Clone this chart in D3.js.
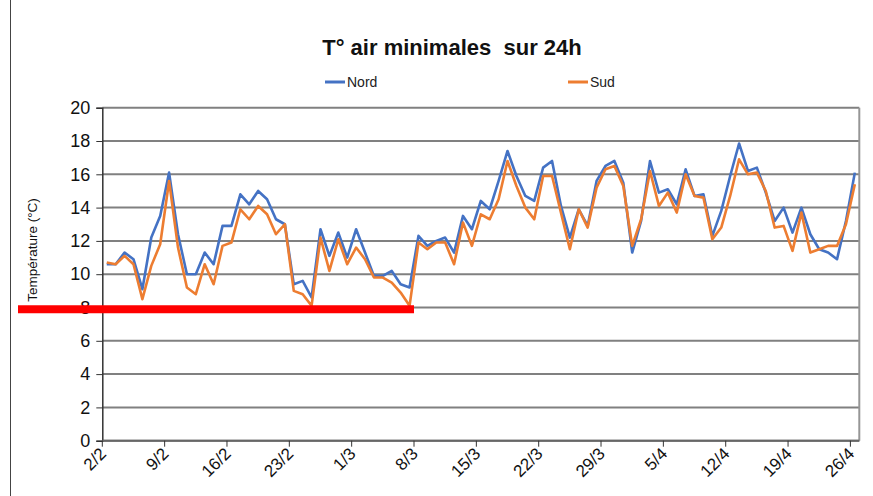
<!DOCTYPE html>
<meta charset="utf-8">
<style>
  body { margin: 0; background: #fff; }
  text { font-family: "Liberation Sans", Arial, sans-serif; }
</style>
<body>
<svg width="873" height="496"></svg>
<script src="https://d3js.org/d3.v7.min.js"></script>
<script>

// Minimal air temperature over 24h, north and south stations (2/2 -> 26/4)

var days = d3.timeDay.range(new Date(2024, 1, 2), new Date(2024, 3, 27));

var tickLabels = ["2/2", "9/2", "16/2", "23/2", "1/3", "8/3", "15/3", "22/3", "29/3", "5/4", "12/4", "19/4", "26/4"];
var yTicks = [0, 2, 4, 6, 8, 10, 12, 14, 16, 18, 20];

var nord = [10.6, 10.6, 11.3, 10.9, 9.1, 12.2, 13.5, 16.1, 12.4, 10.0,
            10.0, 11.3, 10.6, 12.9, 12.9, 14.8, 14.2, 15.0, 14.5, 13.3,
            13.0, 9.4, 9.6, 8.6, 12.7, 11.1, 12.5, 11.0, 12.7, 11.3,
            9.9, 9.9, 10.2, 9.4, 9.2, 12.3, 11.7, 12.0, 12.2, 11.3,
            13.5, 12.7, 14.4, 13.9, 15.6, 17.4, 15.9, 14.7, 14.4, 16.4,
            16.8, 14.1, 12.2, 13.9, 12.9, 15.6, 16.5, 16.8, 15.5, 11.3,
            13.2, 16.8, 14.9, 15.1, 14.2, 16.3, 14.7, 14.8, 12.3, 13.8,
            15.9, 17.85, 16.2, 16.4, 14.9, 13.2, 14.0, 12.5, 14.0, 12.4,
            11.5, 11.3, 10.9, 13.2, 16.1];

var sud = [10.7, 10.6, 11.1, 10.6, 8.5, 10.5, 11.8, 15.6, 11.6, 9.2,
           8.8, 10.6, 9.4, 11.7, 11.9, 13.9, 13.3, 14.1, 13.6, 12.4,
           13.0, 9.0, 8.8, 8.1, 12.2, 10.2, 12.1, 10.6, 11.6, 10.9,
           9.8, 9.8, 9.5, 8.9, 8.1, 11.9, 11.5, 11.9, 11.9, 10.6,
           13.1, 11.7, 13.6, 13.3, 14.5, 16.8, 15.3, 14.0, 13.3, 15.9,
           15.9, 13.7, 11.5, 13.9, 12.8, 15.2, 16.3, 16.5, 15.3, 11.7,
           13.3, 16.2, 14.1, 14.9, 13.7, 16.0, 14.7, 14.6, 12.1, 12.8,
           14.7, 16.9, 16.0, 16.1, 15.0, 12.8, 12.9, 11.4, 13.7, 11.3,
           11.5, 11.7, 11.7, 13.0, 15.4];

// red threshold bar, up to 8/3
var seuil = 7.9, seuilFin = 35;

var svg = d3.select("svg"),
    margin = {top: 107.7, right: 13.7, bottom: 55.3, left: 102.3},
    width = +svg.attr("width") - margin.left - margin.right,
    height = +svg.attr("height") - margin.top - margin.bottom,
    g = svg.append("g").attr("transform", "translate(" + margin.left + "," + margin.top + ")");

var x = d3.scaleBand()
    .domain(d3.range(days.length))
    .range([0, width]);

var y = d3.scaleLinear()
    .domain([0, 20])
    .range([height, 0]);

var cx = function(i) { return x(i) + x.bandwidth() / 2; };

// outer frame line on the left
svg.append("line")
    .attr("x1", 10.5).attr("x2", 10.5)
    .attr("y1", 0).attr("y2", 496)
    .attr("stroke", "#444")
    .attr("stroke-width", 1);

// title
svg.append("text")
    .attr("x", 452)
    .attr("y", 55)
    .attr("text-anchor", "middle")
    .attr("font-size", 22)
    .attr("font-weight", "bold")
    .attr("fill", "#111")
    .style("white-space", "pre")
    .text("T° air minimales  sur 24h");

// legend
var legend = [{name: "Nord", color: "#4472C4", x: 325}, {name: "Sud", color: "#ED7D31", x: 568}];
legend.forEach(function(l) {
  svg.append("line")
      .attr("x1", l.x).attr("x2", l.x + 20)
      .attr("y1", 82).attr("y2", 82)
      .attr("stroke", l.color)
      .attr("stroke-width", 3);
  svg.append("text")
      .attr("x", l.x + 22)
      .attr("y", 87)
      .attr("font-size", 14)
      .attr("fill", "#222")
      .text(l.name);
});

// horizontal grid
g.append("g")
    .selectAll("line")
    .data(yTicks)
    .enter().append("line")
      .attr("x1", 0)
      .attr("x2", width)
      .attr("y1", function(d) { return y(d); })
      .attr("y2", function(d) { return y(d); })
      .attr("stroke", "#808080")
      .attr("stroke-width", 2);

// right border of plot
g.append("line")
    .attr("x1", width).attr("x2", width)
    .attr("y1", 0).attr("y2", height)
    .attr("stroke", "#969696")
    .attr("stroke-width", 2);

// y axis
var yAxis = g.append("g")
    .call(d3.axisLeft(y).tickValues(yTicks).tickSize(6).tickPadding(6));
yAxis.select(".domain").attr("stroke", "#333").attr("stroke-width", 1.5);
yAxis.selectAll(".tick line").attr("stroke", "#333");
yAxis.selectAll(".tick text")
    .attr("font-size", 18)
    .attr("fill", "#111");

svg.append("text")
    .attr("transform", "translate(37,250) rotate(-90)")
    .attr("text-anchor", "middle")
    .attr("font-size", 13.5)
    .attr("fill", "#111")
    .text("Température (°C)");

// x axis : ticks every 7 days at the start of each day slot
var tickIdx = tickLabels.map(function(d, k) { return k * 7; });
var xAxis = g.append("g")
    .attr("transform", "translate(0," + height + ")");
xAxis.append("line")
    .attr("x1", 0).attr("x2", width)
    .attr("stroke", "#666")
    .attr("stroke-width", 2);
xAxis.selectAll(".tick")
    .data(tickIdx)
    .enter().append("line")
      .attr("x1", function(i) { return x(i); })
      .attr("x2", function(i) { return x(i); })
      .attr("y1", 0).attr("y2", 6)
      .attr("stroke", "#333");
xAxis.selectAll("text")
    .data(tickIdx)
    .enter().append("text")
      .attr("transform", function(i) { return "translate(" + (x(i) + 5) + ",14) rotate(-45)"; })
      .attr("text-anchor", "end")
      .attr("font-size", 17)
      .attr("fill", "#111")
      .text(function(i, k) { return tickLabels[k]; });

// threshold bar
svg.append("line")
    .attr("x1", 18)
    .attr("x2", margin.left + x(seuilFin))
    .attr("y1", margin.top + y(seuil))
    .attr("y2", margin.top + y(seuil))
    .attr("stroke", "#FF0000")
    .attr("stroke-width", 8);

var line = d3.line()
    .x(function(d, i) { return cx(i); })
    .y(function(d) { return y(d); });

g.append("path")
    .datum(nord)
    .attr("fill", "none")
    .attr("stroke", "#4472C4")
    .attr("stroke-width", 2.6)
    .attr("stroke-linejoin", "round")
    .attr("d", line);

g.append("path")
    .datum(sud)
    .attr("fill", "none")
    .attr("stroke", "#ED7D31")
    .attr("stroke-width", 2.6)
    .attr("stroke-linejoin", "round")
    .attr("d", line);

</script>
</body>
